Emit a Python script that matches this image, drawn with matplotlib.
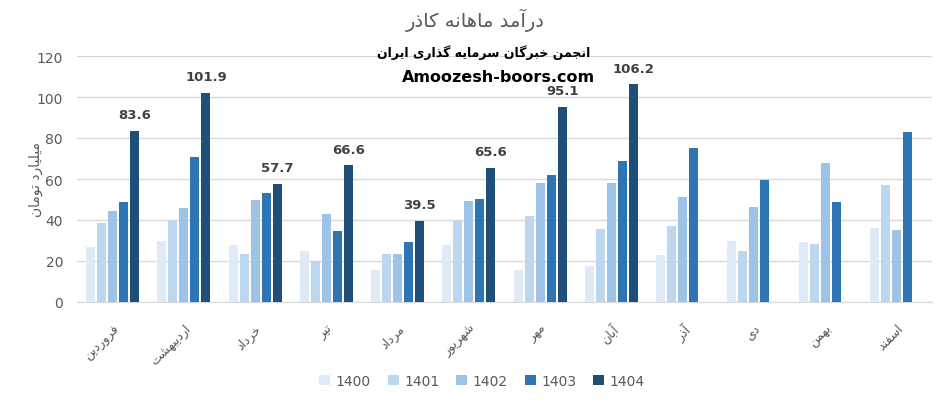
import matplotlib
matplotlib.use('Agg')
import matplotlib.pyplot as plt
import numpy as np

plt.rcParams['font.family'] = ['DejaVu Sans']

months = ['فروردین', 'اردیبهشت', 'خرداد', 'تیر', 'مرداد', 'شهریور',
          'مهر', 'آبان', 'آذر', 'دی', 'بهمن', 'اسفند']
years = ['1400', '1401', '1402', '1403', '1404']

v1400 = [26.8, 29.8, 27.8, 24.9, 15.6, 27.8, 15.6, 17.6, 22.9, 29.8, 29.3, 36.1]
v1401 = [38.5, 40.2, 23.4, 20.0, 23.4, 40.2, 42.0, 35.6, 37.1, 24.9, 28.3, 57.1]
v1402 = [44.4, 45.9, 49.8, 42.9, 23.4, 49.3, 58.0, 58.0, 51.2, 46.3, 67.8, 35.1]
v1403 = [48.8, 70.7, 53.2, 34.6, 29.3, 50.2, 62.0, 68.8, 75.1, 59.5, 48.8, 82.9]
v1404 = [83.6, 101.9, 57.7, 66.6, 39.5, 65.6, 95.1, 106.2]

title = 'درآمد ماهانه کاذر'
ylabel = 'میلیارد تومان'
mark1 = 'انجمن خبرگان سرمایه گذاری ایران'
mark2 = 'Amoozesh-boors.com'

colors = ['#DEEBF7', '#BDD7EE', '#9DC3E6', '#2E75B6', '#1F4E79']

# contextual forms: isolated, final, initial, medial
FORMS = {
    'ا': (0xFE8D, 0xFE8E), 'آ': (0xFE81, 0xFE82),
    'د': (0xFEA9, 0xFEAA), 'ذ': (0xFEAB, 0xFEAC),
    'ر': (0xFEAD, 0xFEAE), 'و': (0xFEED, 0xFEEE),
    'ب': (0xFE8F, 0xFE90, 0xFE91, 0xFE92), 'ت': (0xFE95, 0xFE96, 0xFE97, 0xFE98),
    'ج': (0xFE9D, 0xFE9E, 0xFE9F, 0xFEA0), 'خ': (0xFEA5, 0xFEA6, 0xFEA7, 0xFEA8),
    'س': (0xFEB1, 0xFEB2, 0xFEB3, 0xFEB4), 'ش': (0xFEB5, 0xFEB6, 0xFEB7, 0xFEB8),
    'ف': (0xFED1, 0xFED2, 0xFED3, 0xFED4), 'ل': (0xFEDD, 0xFEDE, 0xFEDF, 0xFEE0),
    'م': (0xFEE1, 0xFEE2, 0xFEE3, 0xFEE4), 'ن': (0xFEE5, 0xFEE6, 0xFEE7, 0xFEE8),
    'ه': (0xFEE9, 0xFEEA, 0xFEEB, 0xFEEC), 'ی': (0xFBFC, 0xFBFD, 0xFBFE, 0xFBFF),
    'ک': (0xFB8E, 0xFB8F, 0xFB90, 0xFB91), 'گ': (0xFB92, 0xFB93, 0xFB94, 0xFB95),
}


def shape(text):
    out = []
    for i, ch in enumerate(text):
        if ch not in FORMS:
            out.append(ch)
            continue
        prev = text[i - 1] if i > 0 else ''
        nxt = text[i + 1] if i + 1 < len(text) else ''
        jp = prev in FORMS and len(FORMS[prev]) == 4
        jn = len(FORMS[ch]) == 4 and nxt in FORMS
        f = FORMS[ch]
        if jp and jn:
            c = f[3]
        elif jp:
            c = f[1]
        elif jn:
            c = f[2]
        else:
            c = f[0]
        out.append(chr(c))
    return ''.join(out)[::-1]


fig = plt.figure(figsize=(9.51, 4.02), dpi=100)
ax = fig.add_axes([77 / 951, 1 - 303 / 402, 855 / 951, 246 / 402])

x = np.arange(len(months))
series = [v1400, v1401, v1402, v1403, v1404]
step = 0.155
width = 0.126
for i, vals in enumerate(series):
    xs = x[:len(vals)] + (i - 2) * step
    bars = ax.bar(xs, vals, width, color=colors[i], label=years[i], zorder=3)
    if i == 4:
        for b, v in zip(bars, vals):
            ax.annotate(f'{v:.1f}', (b.get_x() + b.get_width() / 2, v),
                        xytext=(0, 7), textcoords='offset points',
                        ha='center', va='bottom', fontsize=9.5,
                        fontweight='bold', color='#404040')

ax.set_xlim(-0.5, len(months) - 0.5)
ax.set_ylim(0, 120)
ax.set_yticks(range(0, 121, 20))
ax.yaxis.grid(True, color='#D9D9D9', linewidth=1, zorder=0)
ax.tick_params(axis='both', length=0, colors='#595959', labelsize=10)
ax.tick_params(axis='y', pad=10)
for s in ['top', 'right', 'left']:
    ax.spines[s].set_visible(False)
ax.spines['bottom'].set_color('#D9D9D9')
ax.set_xticks(x)
ax.set_xticklabels([shape(m) for m in months], rotation=45, ha='right',
                   rotation_mode='anchor', fontsize=9, color='#595959')
ax.tick_params(axis='x', pad=14)

fig.text(475 / 951, 1 - 20 / 402, shape(title), ha='center', va='center',
         fontsize=14, color='#595959')
fig.text(484 / 951, 1 - 53 / 402, shape(mark1), ha='center', va='center',
         fontsize=9, fontweight='bold', color='black')
fig.text(498 / 951, 1 - 77 / 402, mark2, ha='center', va='center',
         fontsize=11.5, fontweight='bold', color='black')
fig.text(36 / 951, 1 - 180 / 402, shape(ylabel), ha='center', va='center',
         rotation=90, fontsize=10, color='#595959')

fig.legend(loc='center', bbox_to_anchor=(482 / 951, 1 - 382 / 402), ncol=5,
           frameon=False, fontsize=10, labelcolor='#595959',
           handlelength=0.8, handleheight=0.8, handletextpad=0.4,
           columnspacing=1.2)

plt.savefig('out.png', dpi=100)
